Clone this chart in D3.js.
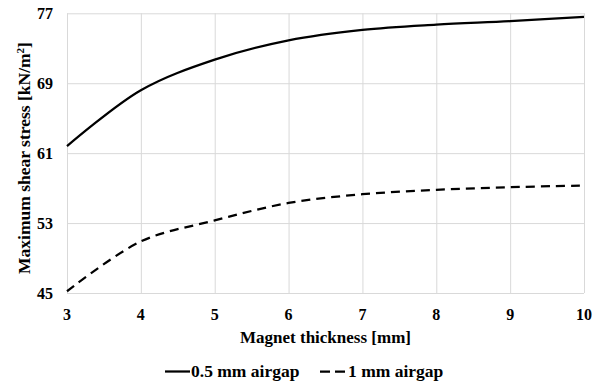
<!DOCTYPE html>
<html>
<head>
<meta charset="utf-8">
<script src="https://cdn.jsdelivr.net/npm/d3@7"></script>
<style>
  body { margin: 0; background: #fff; }
</style>
</head>
<body>
<svg id="chart" width="602" height="381"></svg>
<script>
// datos
var thickness = [3, 4, 5, 6, 7, 8, 9, 10];
var airgap05 = [61.8, 68.2, 71.7, 73.9, 75.1, 75.7, 76.1, 76.6];
var airgap1 = [45.2, 50.9, 53.3, 55.3, 56.3, 56.8, 57.1, 57.3];
var yTicks = [45, 53, 61, 69, 77];
var xTicks = [3, 4, 5, 6, 7, 8, 9, 10];
var seriesNames = ["0.5 mm airgap", "1 mm airgap"];

var fuente = "'Liberation Serif', 'Times New Roman', serif";
var svg = d3.select("#chart");
var m = { left: 67, right: 584, top: 13.3, bottom: 293 };

var x = d3.scaleLinear().domain([3, 10]).range([m.left, m.right]);
var y = d3.scaleLinear().domain([45, 77]).range([m.bottom, m.top]);

// rejilla
svg.append("g")
    .attr("transform", "translate(0," + m.bottom + ")")
    .call(d3.axisBottom(x).tickValues(xTicks).tickSize(-(m.bottom - m.top)).tickFormat(""))
    .call(g => g.select(".domain").remove())
    .selectAll("line").attr("stroke", "#d9d9d9").attr("stroke-width", 1);

svg.append("g")
    .attr("transform", "translate(" + m.left + ",0)")
    .call(d3.axisLeft(y).tickValues(yTicks).tickSize(-(m.right - m.left)).tickFormat(""))
    .call(g => g.select(".domain").remove())
    .selectAll("line").attr("stroke", "#d9d9d9").attr("stroke-width", 1);

function txt(sel, size) {
    return sel.style("font-family", fuente).style("font-weight", "bold")
        .style("font-size", size + "px").attr("fill", "#000");
}

// etiquetas de los ejes
svg.append("g").selectAll("text")
    .data(yTicks).enter().append("text")
    .attr("x", 53).attr("y", d => y(d) + 5.5)
    .attr("text-anchor", "end")
    .call(txt, 16)
    .text(d => d);

svg.append("g").selectAll("text")
    .data(xTicks).enter().append("text")
    .attr("x", d => x(d)).attr("y", 319.5)
    .attr("text-anchor", "middle")
    .call(txt, 16)
    .text(d => d);

svg.append("text")
    .attr("x", (m.left + m.right) / 2).attr("y", 342.5)
    .attr("text-anchor", "middle")
    .call(txt, 17)
    .text("Magnet thickness [mm]");

var yt = svg.append("text")
    .attr("transform", "translate(30,158) rotate(-90)")
    .attr("text-anchor", "middle")
    .call(txt, 17.5);
yt.append("tspan").text("Maximum shear stress [kN/m");
yt.append("tspan").attr("baseline-shift", "super").style("font-size", "11px").text("2");
yt.append("tspan").text("]");

// lineas
var line = d3.line()
    .x((d, i) => x(thickness[i]))
    .y(d => y(d))
    .curve(d3.curveCatmullRom.alpha(0.5));

svg.append("path")
    .attr("d", line(airgap05))
    .attr("fill", "none").attr("stroke", "#000").attr("stroke-width", 2.25);

svg.append("path")
    .attr("d", line(airgap1))
    .attr("fill", "none").attr("stroke", "#000").attr("stroke-width", 2.25)
    .attr("stroke-dasharray", "9,6");

// leyenda
var ly = 371.5;
svg.append("line").attr("x1", 165).attr("x2", 190).attr("y1", ly).attr("y2", ly)
    .attr("stroke", "#000").attr("stroke-width", 2.25);
svg.append("text").attr("x", 191).attr("y", ly + 5.5).call(txt, 17.5).text(seriesNames[0]);
svg.append("line").attr("x1", 320).attr("x2", 345).attr("y1", ly).attr("y2", ly)
    .attr("stroke", "#000").attr("stroke-width", 2.25).attr("stroke-dasharray", "10,5");
svg.append("text").attr("x", 348).attr("y", ly + 5.5).call(txt, 17.5).text(seriesNames[1]);
</script>
</body>
</html>
